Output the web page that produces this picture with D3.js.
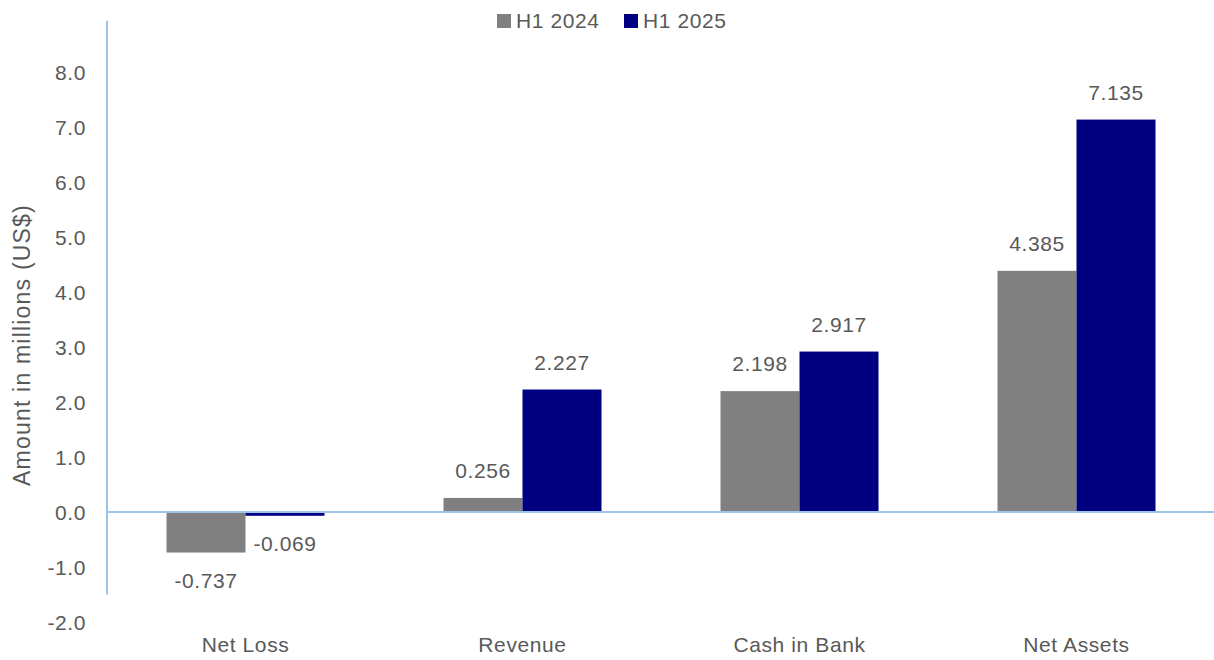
<!DOCTYPE html>
<html><head><meta charset="utf-8">
<script src="https://cdn.jsdelivr.net/npm/d3@7"></script>
<style>
html,body{margin:0;padding:0;background:#fff;}
svg text{font-family:"Liberation Sans",Arial,sans-serif;fill:#595959;letter-spacing:0.6px;}
</style></head>
<body><svg id="c" width="1214" height="660"></svg>
<script>
const categories = ["Net Loss","Revenue","Cash in Bank","Net Assets"];
const seriesNames = ["H1 2024","H1 2025"];
const h1_2024 = [-0.737, 0.256, 2.198, 4.385];
const h1_2025 = [-0.069, 2.227, 2.917, 7.135];
const yTicks = [-2,-1,0,1,2,3,4,5,6,7,8];
const colors = ["#808080","#000080"];

const loc = d3.formatLocale({decimal:".", thousands:",", grouping:[3], currency:["$",""], minus:"-"});
const f1 = loc.format(".1f"), f3 = loc.format(".3f");

const svg = d3.select("#c");
const W = 1214, H = 660;
const x0 = 107, x1 = 1215;
const y = d3.scaleLinear().domain([-2, 8]).range([622, 72]);
const x = d3.scaleBand().domain(categories).range([x0, x1]).paddingInner(0).paddingOuter(0);
const barW = 79;
const xs = d3.scaleBand().domain(seriesNames).range([0, barW*2]);
const fs = 21;

// y axis tick labels
const yAxis = d3.axisLeft(y).tickValues(yTicks).tickFormat(f1).tickSize(0).tickPadding(0);
const gy = svg.append("g").attr("transform", `translate(86,0)`).call(yAxis);
gy.select(".domain").remove();
gy.selectAll("text").style("font-size", fs+"px").attr("fill","#595959").attr("dy","0.35em");

// y axis line
svg.append("line").attr("x1",x0).attr("x2",x0).attr("y1",y(8.93)).attr("y2",y(-1.5))
  .attr("stroke","#9DC3E6").attr("stroke-width",2);

// bars
const data = [];
categories.forEach((c,i)=>{
  data.push({c, s:seriesNames[0], v:h1_2024[i], col:colors[0]});
  data.push({c, s:seriesNames[1], v:h1_2025[i], col:colors[1]});
});
const bx = d => x(d.c) + x.bandwidth()/2 - barW + xs(d.s);
svg.append("g").selectAll("rect").data(data).join("rect")
  .attr("x", bx).attr("width", xs.bandwidth())
  .attr("y", d => y(Math.max(0,d.v))).attr("height", d => Math.abs(y(d.v)-y(0)))
  .attr("fill", d => d.col);

// zero line
svg.append("line").attr("x1",x0).attr("x2",W).attr("y1",y(0)).attr("y2",y(0))
  .attr("stroke","#9DC3E6").attr("stroke-width",2);

// value labels
svg.append("g").selectAll("text").data(data).join("text")
  .attr("x", d => bx(d) + xs.bandwidth()/2)
  .attr("y", d => d.v >= 0 ? y(d.v) - 27 : y(d.v) + 28)
  .attr("dy","0.35em").attr("text-anchor","middle")
  .style("font-size", fs+"px")
  .text(d => f3(d.v));

// category labels
svg.append("g").selectAll("text").data(categories).join("text")
  .attr("x", d => x(d) + x.bandwidth()/2).attr("y", 645).attr("dy","0.35em")
  .attr("text-anchor","middle").style("font-size", fs+"px").text(d=>d);

// y title
svg.append("text").attr("transform","translate(22,345) rotate(-90)")
  .attr("text-anchor","middle").attr("dy","0.35em").style("font-size", "23px").style("letter-spacing","1.2px")
  .text("Amount in millions (US$)");

// legend
const legX = [497, 624];
seriesNames.forEach((s,i)=>{
  svg.append("rect").attr("x",legX[i]).attr("y",14).attr("width",14).attr("height",14).attr("fill",colors[i]);
  svg.append("text").attr("x",legX[i]+19).attr("y",21).attr("dy","0.35em").style("font-size",fs+"px").text(s);
});
</script></body></html>
